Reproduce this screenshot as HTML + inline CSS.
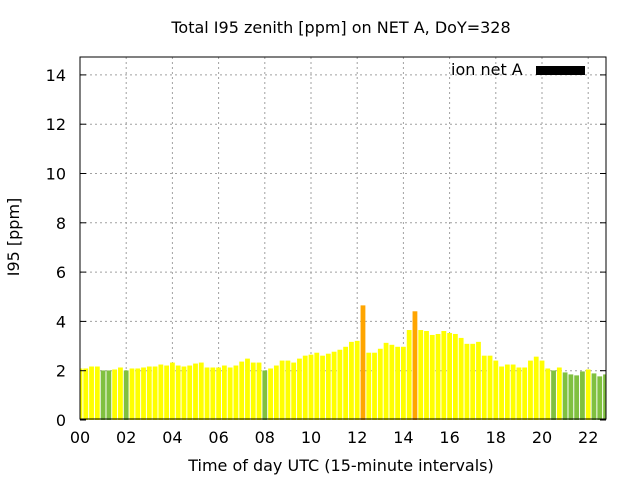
<!DOCTYPE html>
<html><head><meta charset="utf-8"><style>
body{margin:0;background:#fff;}
svg text{font-family:"DejaVu Sans","Liberation Sans",sans-serif;font-size:16px;fill:#000;}
</style></head><body>
<svg id="chart" width="640" height="480">
<rect width="640" height="480" fill="#fff"/>
<text x="341" y="33" text-anchor="middle">Total I95 zenith [ppm] on NET A, DoY=328</text>
<text x="341" y="471" text-anchor="middle">Time of day UTC (15-minute intervals)</text>
<text transform="translate(19,237) rotate(-90)" text-anchor="middle">I95 [ppm]</text>
<g id="grid"></g>
<defs><clipPath id="pc"><rect x="80" y="57" width="526" height="363"/></clipPath></defs>
<g id="bars" clip-path="url(#pc)"></g>
<rect x="80" y="57" width="526" height="362" fill="none" stroke="#000" stroke-width="1"/>
<g id="ticks"></g>
<g>
<text x="451" y="75">ion net A</text>
<rect x="536" y="66" width="49" height="9" fill="#000"/>
</g>
</svg>
<script>
const values=[2.09,2.09,2.17,2.17,2.01,2.01,2.05,2.13,2.01,2.09,2.09,2.13,2.17,2.17,2.25,2.21,2.33,2.21,2.17,2.21,2.29,2.33,2.13,2.13,2.13,2.21,2.13,2.21,2.37,2.49,2.33,2.33,2.01,2.09,2.21,2.41,2.41,2.33,2.49,2.61,2.65,2.73,2.61,2.69,2.77,2.85,2.97,3.17,3.21,4.65,2.73,2.73,2.89,3.13,3.05,2.97,2.97,3.65,4.41,3.65,3.61,3.45,3.49,3.61,3.53,3.49,3.33,3.09,3.09,3.17,2.61,2.61,2.41,2.17,2.25,2.25,2.13,2.13,2.41,2.57,2.41,2.09,2.01,2.13,1.93,1.85,1.81,1.97,2.05,1.89,1.77,1.85];
const yTicks=[0,2,4,6,8,10,12,14];
const xTicks=["00","02","04","06","08","10","12","14","16","18","20","22"];
const NS="http://www.w3.org/2000/svg";
const X0=80,XS=23.1,Y0=420,YS=24.65;
const xs=t=>X0+t*XS, ys=v=>Y0-v*YS;
const grid=document.getElementById('grid'),ticks=document.getElementById('ticks'),bars=document.getElementById('bars');
function mk(tag,at,parent){const e=document.createElementNS(NS,tag);for(const k in at)e.setAttribute(k,at[k]);parent.appendChild(e);return e;}
yTicks.forEach(v=>{const y=ys(v);
 if(v>0){const g=mk('line',{x1:80,x2:606,y1:y,y2:y,stroke:'#a0a0a0','stroke-dasharray':'2,3'},grid);
 
 }
 const t=mk('text',{x:66,y:y+6,'text-anchor':'end'},ticks);t.textContent=v;
 
 
 mk('line',{x1:80,x2:86,y1:y,y2:y,stroke:'#000'},ticks);mk('line',{x1:600,x2:606,y1:y,y2:y,stroke:'#000'},ticks);
});
xTicks.forEach(s=>{const x=xs(parseInt(s,10));
 if(x>80){const g=mk('line',{x1:x,x2:x,y1:57,y2:419,stroke:'#a0a0a0','stroke-dasharray':'2,3'},grid);
 
 }
 const t=mk('text',{x:x,y:443,'text-anchor':'middle'},ticks);t.textContent=s;
 
 
});
values.forEach((v,i)=>{const c=xs(i*0.25);const col=v>4?'#ffa500':(v<2.03?'#80c040':'#ffff00');
 const r=mk('rect',{x:c-2.4,y:ys(v),width:4.8,height:Y0-ys(v),fill:col},bars);
 
 
});
</script>
</body></html>
